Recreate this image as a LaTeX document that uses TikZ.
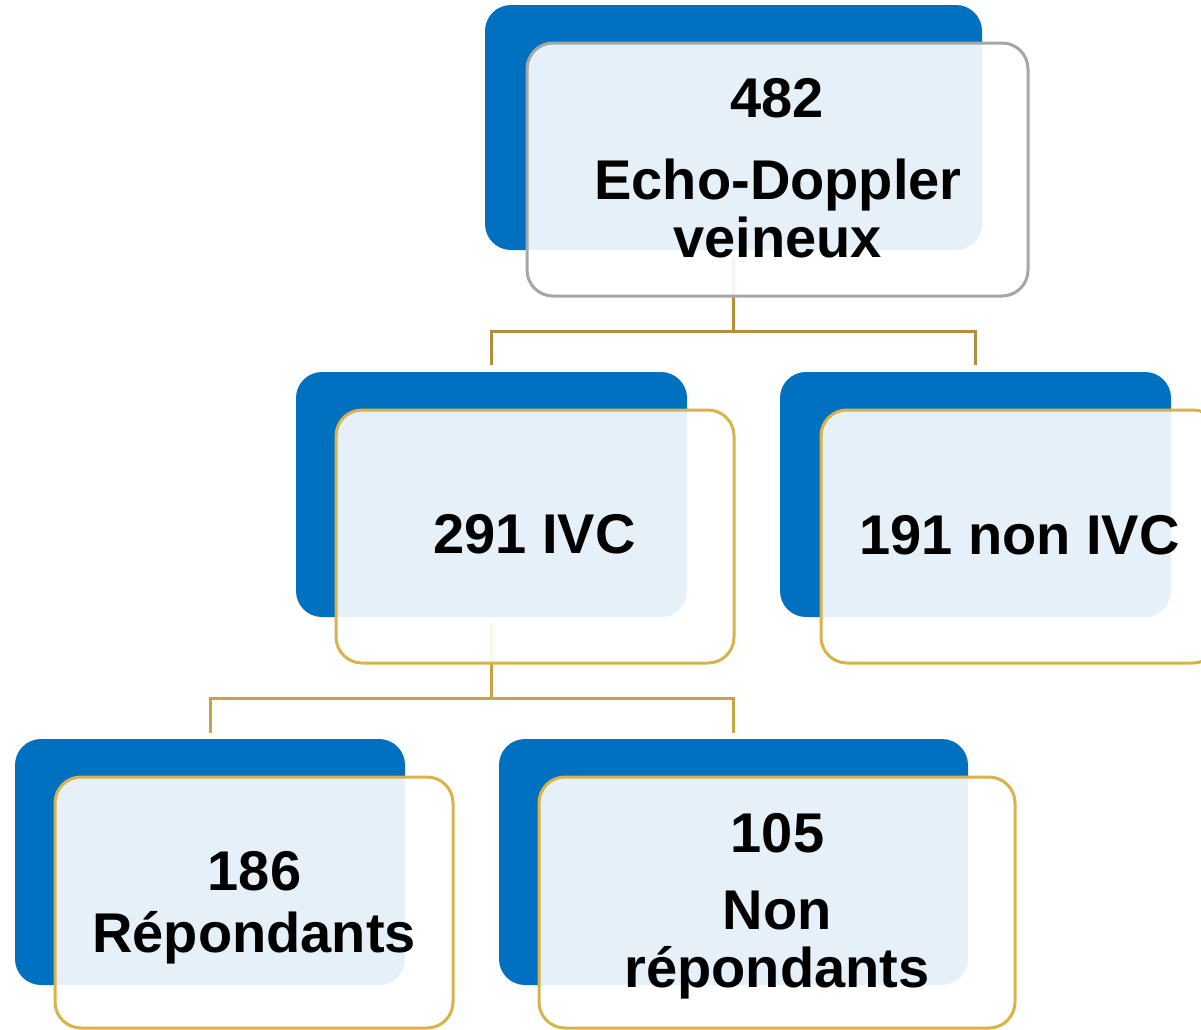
\documentclass[tikz,border=0pt]{standalone}
\usepackage{fontspec}
\setmainfont{Liberation Sans}
\definecolor{backblue}{HTML}{0070C0}
\definecolor{linkgold}{HTML}{B08F3A}
\definecolor{linkgoldb}{HTML}{C9A443}
\definecolor{edgegold}{HTML}{D9B24A}
\definecolor{edgegray}{HTML}{A6A6A6}
\tikzset{
  backbox/.style={rectangle, rounded corners=26pt, fill=backblue, inner sep=0pt},
  frontbox/.style={rectangle, rounded corners=26pt, fill=white, fill opacity=0.9,
    draw=edgegold, line width=3pt, inner sep=0pt},
  topfront/.style={frontbox, draw=edgegray},
  link/.style={line width=3pt, draw=linkgold},
  linkb/.style={line width=3pt, draw=linkgoldb},
  lbl/.style={anchor=base, inner sep=0pt, font=\fontsize{56}{60}\selectfont\bfseries}
}
\begin{document}
\begin{tikzpicture}[x=1pt, y=-1pt]
\clip (0,0) rectangle (1201,1029);
\useasboundingbox (0,0) rectangle (1201,1029);

% back (blue) cards
\node[backbox, minimum width=497pt, minimum height=245pt] (b0) at (733.5,127.5) {};
\node[backbox, minimum width=391pt, minimum height=245pt] (b1) at (491.5,494.5) {};
\node[backbox, minimum width=391pt, minimum height=245pt] (b2) at (975.5,494.5) {};
\node[backbox, minimum width=390pt, minimum height=246pt] (b3) at (210,862) {};
\node[backbox, minimum width=469pt, minimum height=246pt] (b4) at (733.5,862) {};

% tree connectors
\coordinate (j0) at (733.5,331);
\coordinate (j1) at (491.5,698);
\draw[link] ([yshift=-7pt]b0.south) -- (j0);
\draw[link] ([yshift=7pt]b1.north) |- (j0) -| ([yshift=7pt]b2.north);
\draw[linkb] ([yshift=-6pt]b1.south) -- (j1);
\draw[linkb] ([yshift=6pt]b3.north) |- (j1) -| ([yshift=6pt]b4.north);

% front (translucent) cards
\node[topfront, minimum width=501pt, minimum height=253pt] (f0) at (777.5,169.5) {};
\node[frontbox, minimum width=398pt, minimum height=253pt] (f1) at (535,536.5) {};
\node[frontbox, minimum width=398pt, minimum height=253pt] (f2) at (1020,536.5) {};
\node[frontbox, minimum width=398pt, minimum height=251pt] (f3) at (254,902.5) {};
\node[frontbox, minimum width=476pt, minimum height=251pt] (f4) at (777,902.5) {};

% labels
\node[lbl] (t0a) at (777,117) {482};
\node[lbl] (t0b) at (778,199) {Echo-Doppler};
\node[lbl] (t0c) at (777.5,257) {veineux};
\node[lbl] (t1) at (534.5,553) {291 IVC};
\node[lbl] (t2) at (1019.5,554) {191 non IVC};
\node[lbl] (t3a) at (254.5,890) {186};
\node[lbl] (t3b) at (254,952) {Répondants};
\node[lbl] (t4a) at (777.5,852) {105};
\node[lbl] (t4b) at (777,929) {Non};
\node[lbl] (t4c) at (777,987) {répondants};
\end{tikzpicture}
\end{document}
